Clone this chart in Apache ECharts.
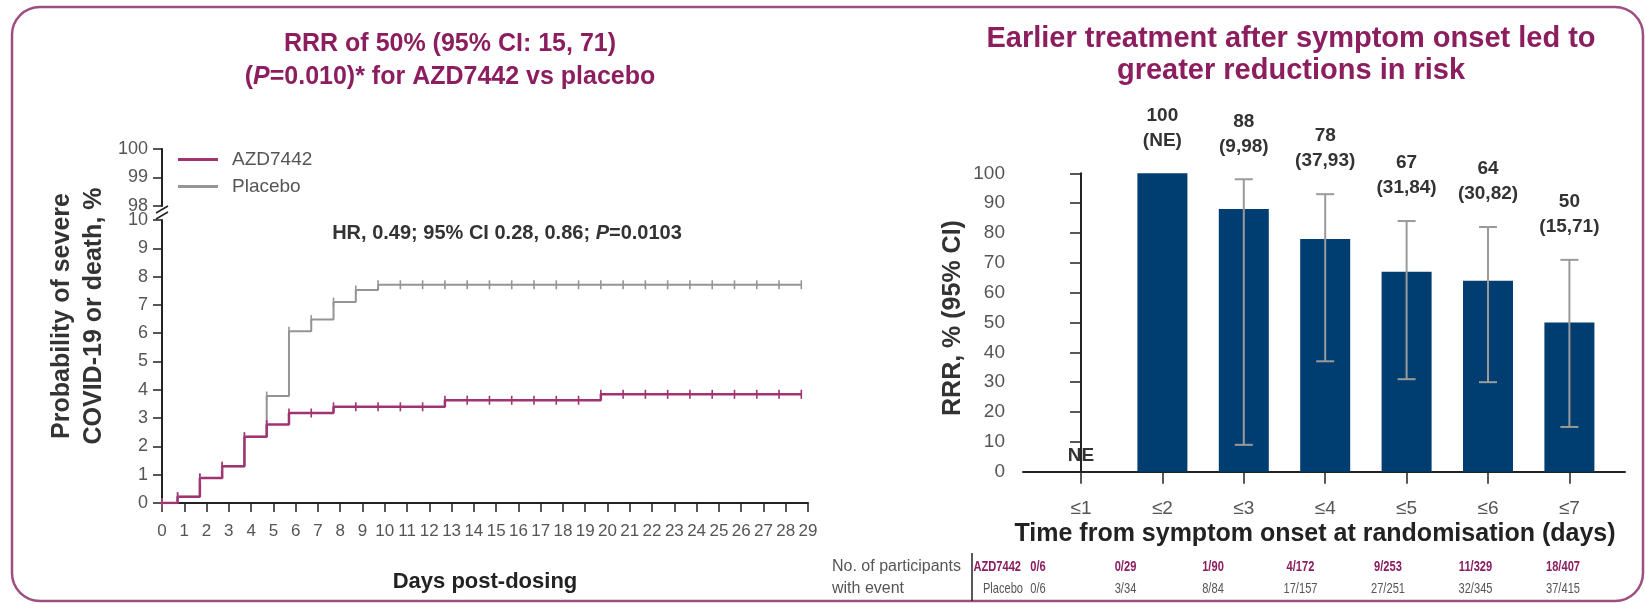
<!DOCTYPE html>
<html>
<head>
<meta charset="utf-8">
<script src="https://cdn.jsdelivr.net/npm/echarts@6/dist/echarts.min.js"></script>
<style>
html, body { margin: 0; padding: 0; background: #fff; }
#chart { width: 1646px; height: 604px; }
</style>
</head>
<body>
<div id="chart"></div>
<script>
// ---- data: Kaplan-Meier (left) ----
var kmDays = [0, 0.7, 1.7, 2.7, 3.7, 4.7, 5.7, 6.7, 7.7, 8.7, 9.7, 10.7, 11.7, 12.7, 13.7,
	14.7, 15.7, 16.7, 17.7, 18.7, 19.7, 20.7, 21.7, 22.7, 23.7, 24.7, 25.7, 26.7, 27.7, 28.7];
var placeboPct = [0, 0.22, 0.88, 1.30, 2.34, 3.78, 6.07, 6.48, 7.10, 7.53, 7.71, 7.71, 7.71, 7.71, 7.71,
	7.71, 7.71, 7.71, 7.71, 7.71, 7.71, 7.71, 7.71, 7.71, 7.71, 7.71, 7.71, 7.71, 7.71, 7.71];
var azdPct = [0, 0.22, 0.88, 1.30, 2.34, 2.77, 3.18, 3.18, 3.40, 3.40, 3.40, 3.40, 3.40, 3.63, 3.63,
	3.63, 3.63, 3.63, 3.63, 3.63, 3.84, 3.84, 3.84, 3.84, 3.84, 3.84, 3.84, 3.84, 3.84, 3.84];

// ---- data: RRR by time from symptom onset (right) ----
var onsetCats = ['≤1', '≤2', '≤3', '≤4', '≤5', '≤6', '≤7'];
var rrrValues = [null, 100, 88, 78, 67, 64, 50];
var ciLow = [null, null, 9, 37, 31, 30, 15];
var ciHigh = [null, null, 98, 93, 84, 82, 71];
var azdEvents = ['0/6', '0/29', '1/90', '4/172', '9/253', '11/329', '18/407'];
var placeboEvents = ['0/6', '3/34', '8/84', '17/157', '27/251', '32/345', '37/415'];

var FONT = "'Liberation Sans', Arial, sans-serif";
var MAROON = '#8c1d5e';
var AZD_COLOR = '#a13371';
var PLACEBO_COLOR = '#959595';
var BAR_COLOR = '#003e72';
var AXIS_COLOR = '#222';
var LABEL_COLOR = '#555';

var chart = echarts.init(document.getElementById('chart'));

function pairs(xs, ys) {
	var out = [];
	for (var i = 0; i < xs.length; i++) out.push([xs[i], ys[i]]);
	return out;
}

// error bars + text above each bar, placed through the axis coords
function renderCI(params, api) {
	var i = params.dataIndex;
	var base = api.coord([i, 0]);
	var x = base[0];
	var children = [];
	var topY = base[1];
	if (ciLow[i] != null) {
		var lo = api.coord([i, ciLow[i]])[1];
		var hi = api.coord([i, ciHigh[i]])[1];
		var st = { stroke: '#9a9a9a', lineWidth: 2 };
		children.push({ type: 'line', shape: { x1: x, y1: lo, x2: x, y2: hi }, style: st });
		children.push({ type: 'line', shape: { x1: x - 9, y1: hi, x2: x + 9, y2: hi }, style: st });
		children.push({ type: 'line', shape: { x1: x - 9, y1: lo, x2: x + 9, y2: lo }, style: st });
		topY = hi;
	} else if (rrrValues[i] != null) {
		topY = api.coord([i, rrrValues[i]])[1];
	}
	var txt = { align: 'center', verticalAlign: 'middle', fontSize: 19, fontWeight: 'bold', fontFamily: FONT, fill: '#333' };
	if (rrrValues[i] == null) {
		children.push({ type: 'text', style: echarts.util.extend({ text: 'NE', x: x, y: base[1] - 16, fill: '#222' }, txt) });
	} else {
		var ci = ciLow[i] != null ? '(' + ciLow[i] + ',' + ciHigh[i] + ')' : '(NE)';
		children.push({ type: 'text', style: echarts.util.extend({ text: String(rrrValues[i]), x: x, y: topY - 58 }, txt) });
		children.push({ type: 'text', style: echarts.util.extend({ text: ci, x: x, y: topY - 33 }, txt) });
	}
	return { type: 'group', children: children };
}

// bottom table: participants with event (narrow text, like the source)
function cell(text, x, y, align, bold, color) {
	return {
		type: 'text', x: x, y: y, scaleX: 0.74,
		style: { text: text, x: 0, y: 0, align: align, verticalAlign: 'middle', fontSize: 15,
			fontWeight: bold ? 'bold' : 'normal', fontFamily: FONT, fill: color }
	};
}
var tableEls = [];
var colX0 = 1038, colStep = 87.5, rowA = 567, rowP = 589;
tableEls.push({ type: 'text', style: { text: 'No. of participants', x: 832, y: rowA, verticalAlign: 'middle', fontSize: 16, fontFamily: FONT, fill: LABEL_COLOR } });
tableEls.push({ type: 'text', style: { text: 'with event', x: 832, y: rowP, verticalAlign: 'middle', fontSize: 16, fontFamily: FONT, fill: LABEL_COLOR } });
tableEls.push({ type: 'line', shape: { x1: 972, y1: 553, x2: 972, y2: 601 }, style: { stroke: AXIS_COLOR, lineWidth: 1.5 } });
tableEls.push(cell('AZD7442', 1021, rowA, 'right', true, MAROON));
tableEls.push(cell('Placebo', 1023, rowP, 'right', false, LABEL_COLOR));
for (var c = 0; c < azdEvents.length; c++) {
	tableEls.push(cell(azdEvents[c], colX0 + c * colStep, rowA, 'center', true, MAROON));
	tableEls.push(cell(placeboEvents[c], colX0 + c * colStep, rowP, 'center', false, LABEL_COLOR));
}

var italicP = { fontStyle: 'italic', fontWeight: 'bold', fontFamily: FONT };

var option = {
	animation: false,
	backgroundColor: '#fff',
	textStyle: { fontFamily: FONT },
	legend: {
		orient: 'vertical',
		left: 178,
		top: 150,
		padding: 0,
		itemWidth: 40,
		itemHeight: 3,
		itemGap: 8,
		icon: 'rect',
		selectedMode: false,
		data: ['AZD7442', 'Placebo'],
		textStyle: { fontSize: 19, color: LABEL_COLOR, padding: [0, 0, 0, 9] }
	},
	grid: [
		{ left: 162, top: 220, width: 646, height: 283 },   // KM 0-10
		{ left: 162, top: 149, width: 646, height: 57 },    // KM 98-100
		{ left: 1023, top: 173.3, width: 602, height: 298.4 } // RRR bars
	],
	xAxis: [
		{
			type: 'value', gridIndex: 0, min: 0, max: 29, interval: 1,
			name: 'Days post-dosing', nameLocation: 'middle', nameGap: 68,
			nameTextStyle: { fontSize: 22, fontWeight: 'bold', color: AXIS_COLOR },
			axisLine: { show: true, onZero: false, lineStyle: { color: AXIS_COLOR, width: 2 } },
			axisTick: { show: true, length: 9, lineStyle: { color: AXIS_COLOR, width: 1.5 } },
			axisLabel: { color: LABEL_COLOR, fontSize: 17, margin: 20 },
			splitLine: { show: false }
		},
		{ type: 'value', gridIndex: 1, min: 0, max: 29, show: false },
		{
			type: 'value', gridIndex: 2, min: -0.7125, max: 6.683,
			axisLine: { show: true, lineStyle: { color: AXIS_COLOR, width: 2 } },
			axisTick: { show: true, length: 12, customValues: [0, 1, 2, 3, 4, 5, 6], lineStyle: { color: AXIS_COLOR, width: 1.5 } },
			axisLabel: {
				color: LABEL_COLOR, fontSize: 19, margin: 28,
				customValues: [0, 1, 2, 3, 4, 5, 6],
				formatter: function (v) { return onsetCats[Math.round(v)]; }
			},
			splitLine: { show: false }
		}
	],
	yAxis: [
		{
			type: 'value', gridIndex: 0, min: 0, max: 10, interval: 1,
			axisLine: { show: true, lineStyle: { color: AXIS_COLOR, width: 2 } },
			axisTick: { show: true, length: 9, lineStyle: { color: AXIS_COLOR, width: 1.5 } },
			axisLabel: { color: LABEL_COLOR, fontSize: 18, margin: 14 },
			splitLine: { show: false }
		},
		{
			type: 'value', gridIndex: 1, min: 98, max: 100, interval: 1,
			axisLine: { show: true, lineStyle: { color: AXIS_COLOR, width: 2 } },
			axisTick: { show: true, length: 9, lineStyle: { color: AXIS_COLOR, width: 1.5 } },
			axisLabel: { color: LABEL_COLOR, fontSize: 18, margin: 14 },
			splitLine: { show: false }
		},
		{
			type: 'value', gridIndex: 2, min: 0, max: 100, interval: 10,
			axisLine: { show: true, lineStyle: { color: AXIS_COLOR, width: 2 } },
			axisTick: { show: true, length: 11, lineStyle: { color: AXIS_COLOR, width: 1.5 } },
			axisLabel: { color: LABEL_COLOR, fontSize: 19, margin: 18 },
			splitLine: { show: false }
		}
	],
	series: [
		{
			name: 'Placebo', type: 'line', step: 'end', xAxisIndex: 0, yAxisIndex: 0,
			data: pairs(kmDays, placeboPct),
			symbol: 'rect', symbolSize: [1.6, 9], showAllSymbol: true,
			itemStyle: { color: PLACEBO_COLOR },
			lineStyle: { color: PLACEBO_COLOR, width: 2 }
		},
		{
			name: 'AZD7442', type: 'line', step: 'end', xAxisIndex: 0, yAxisIndex: 0,
			data: pairs(kmDays, azdPct),
			symbol: 'rect', symbolSize: [1.6, 9], showAllSymbol: true,
			itemStyle: { color: AZD_COLOR },
			lineStyle: { color: AZD_COLOR, width: 2.5 }
		},
		{
			name: 'RRR', type: 'bar', xAxisIndex: 2, yAxisIndex: 2, barWidth: 50,
			data: rrrValues.map(function (v, i) { return [i, v == null ? '-' : v]; }),
			itemStyle: { color: BAR_COLOR }
		},
		{
			name: 'CI', type: 'custom', xAxisIndex: 2, yAxisIndex: 2,
			data: rrrValues.map(function (v, i) { return [i, v == null ? 0 : v]; }),
			renderItem: renderCI,
			z: 5
		}
	],
	graphic: [
		{ type: 'rect', shape: { x: 12, y: 7, width: 1631, height: 594, r: 28 }, style: { fill: 'none', stroke: '#9e4f80', lineWidth: 2.5 } },
		{ type: 'text', style: { text: 'RRR of 50% (95% CI: 15, 71)', x: 450, y: 44, align: 'center', verticalAlign: 'middle', fontSize: 25, fontWeight: 'bold', fontFamily: FONT, fill: MAROON } },
		{ type: 'text', style: {
			text: '({p|P}=0.010)* for AZD7442 vs placebo', x: 450, y: 77, align: 'center', verticalAlign: 'middle',
			fontSize: 25, fontWeight: 'bold', fontFamily: FONT, fill: MAROON,
			rich: { p: echarts.util.extend({ fontSize: 25, fill: MAROON }, italicP) }
		} },
		{ type: 'text', style: { text: 'Earlier treatment after symptom onset led to', x: 1291, y: 39, align: 'center', verticalAlign: 'middle', fontSize: 29, fontWeight: 'bold', fontFamily: FONT, fill: MAROON } },
		{ type: 'text', style: { text: 'greater reductions in risk', x: 1291, y: 71, align: 'center', verticalAlign: 'middle', fontSize: 29, fontWeight: 'bold', fontFamily: FONT, fill: MAROON } },
		{ type: 'text', style: {
			text: 'HR, 0.49; 95% CI 0.28, 0.86; {p|P}=0.0103', x: 507, y: 233, align: 'center', verticalAlign: 'middle',
			fontSize: 20, fontWeight: 'bold', fontFamily: FONT, fill: '#333',
			rich: { p: echarts.util.extend({ fontSize: 20, fill: '#333' }, italicP) }
		} },
		{ type: 'text', x: 78, y: 316, rotation: Math.PI / 2, style: {
			text: 'Probability of severe\nCOVID-19 or death, %', x: 0, y: 0, align: 'center', verticalAlign: 'middle',
			lineHeight: 32, fontSize: 25, fontWeight: 'bold', fontFamily: FONT, fill: '#333'
		} },
		{ type: 'text', x: 953, y: 318, rotation: Math.PI / 2, style: {
			text: 'RRR, % (95% CI)', x: 0, y: 0, align: 'center', verticalAlign: 'middle',
			fontSize: 25, fontWeight: 'bold', fontFamily: FONT, fill: '#333'
		} },
		{ type: 'text', style: { text: 'Time from symptom onset at randomisation (days)', x: 1315, y: 534, align: 'center', verticalAlign: 'middle', fontSize: 25, fontWeight: 'bold', fontFamily: FONT, fill: AXIS_COLOR } },
		// axis break between 98 and 10
		{ type: 'line', shape: { x1: 156, y1: 213, x2: 168, y2: 206 }, style: { stroke: AXIS_COLOR, lineWidth: 1.5 } },
		{ type: 'line', shape: { x1: 156, y1: 219, x2: 168, y2: 212 }, style: { stroke: AXIS_COLOR, lineWidth: 1.5 } }
	].concat(tableEls)
};

chart.setOption(option);
</script>
</body>
</html>
